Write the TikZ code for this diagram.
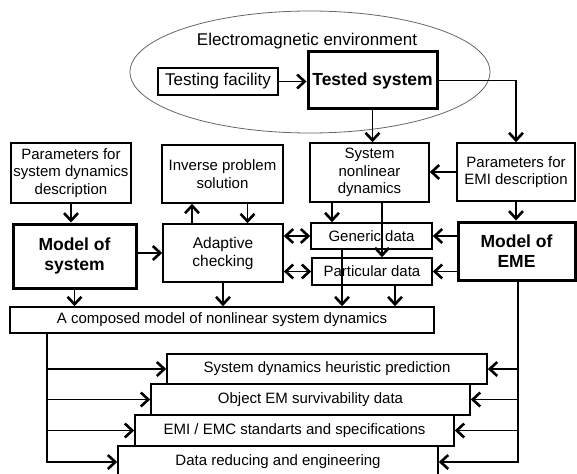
\documentclass[tikz,border=0pt]{standalone}
\usepackage{fontspec}
\setmainfont{Liberation Sans}
\usetikzlibrary{arrows.meta,shapes.geometric}

\begin{document}
\begin{tikzpicture}[x=1pt,y=-1pt,
  box/.style={draw, line width=1.6pt, inner sep=0pt, align=center,
    font=\fontsize{15}{17.5}\selectfont},
  bigbox/.style={draw, line width=3pt, inner sep=0pt, align=center,
    font=\fontsize{17.5}{20}\selectfont\bfseries},
  conn/.style={line width=1.7pt},
  >={Straight Barb[length=7.5pt,width=14pt,line width=2.6pt]}]

\useasboundingbox (0,0) rectangle (577,473);
\clip (0,0) rectangle (577,473);

% environment
\node[ellipse, draw=black!60, line width=0.8pt, minimum width=360,
  minimum height=122, inner sep=0pt] (env) at (310,72) {};
\node[font=\fontsize{17}{20}\selectfont] (envlbl) at (307,41) {Electromagnetic environment};

% top row
\node[box, font=\fontsize{17}{20}\selectfont, minimum width=120, minimum height=27]
  (tf) at (218,81.5) {Testing facility};
\node[bigbox, minimum width=129, minimum height=57] (ts) at (372.5,80.5) {Tested system};

% second row
\node[box, minimum width=120, minimum height=60] (psd) at (71,173)
  {Parameters for\\system dynamics\\description};
\node[box, minimum width=121, minimum height=58] (ips) at (222.5,174)
  {Inverse problem\\solution};
\node[box, minimum width=119, minimum height=59] (snd) at (369.5,172.5)
  {System\\nonlinear\\dynamics};
\node[box, minimum width=118, minimum height=58] (pemi) at (516,172)
  {Parameters for\\EMI description};

% third row
\node[bigbox, minimum width=123, minimum height=64] (ms) at (74.5,256)
  {Model of\\system};
\node[box, font=\fontsize{15.5}{18}\selectfont, minimum width=120, minimum height=58]
  (ac) at (223,253) {Adaptive\\checking};
\node[box, minimum width=121, minimum height=26] (gd) at (371.5,236) {Generic data};
\node[box, minimum width=120, minimum height=27] (pd) at (372,271.5) {Particular data};
\node[bigbox, minimum width=117, minimum height=58] (meme) at (516.5,251)
  {Model of\\EME};

% composed model
\node[box, minimum width=424, minimum height=26] (cm) at (222,320)
  {A composed model of nonlinear system dynamics};

% output staircase
\node[box, minimum width=320, minimum height=30] (b1) at (327,369)
  {System dynamics heuristic prediction};
\node[box, minimum width=319, minimum height=31] (b2) at (310.5,399.5)
  {Object EM survivability data};
\node[box, minimum width=319, minimum height=31] (b3) at (294.5,430.5)
  {EMI / EMC standarts and specifications};
\node[box, minimum width=320, minimum height=32] (b4) at (278,462)
  {Data reducing and engineering};

% connectors
\draw[conn,->] (tf.east) -- (tf.east -| ts.west);
\draw[conn,->] (ts.south) -- (ts.south |- snd.north);
\draw[conn,->] (ts.east) -| (pemi.north);
\draw[conn,->] (pemi.west) -- (pemi.west -| snd.east);
\draw[conn,->] (pemi.south) -- (pemi.south |- meme.north);
\draw[conn,->] (psd.south) -- (psd.south |- ms.north);
\draw[conn,->] (ms.east |- ac.west) -- (ac.west);
\draw[conn,->] ([xshift=-31]ac.north) -- ([xshift=-31]ac.north |- ips.south);
\draw[conn,->] ([xshift=25]ips.south) -- ([xshift=25]ips.south |- ac.north);
\draw[conn,->] (ac.south) -- (ac.south |- cm.north);
\draw[conn,->] (ms.south) -- (ms.south |- cm.north);
\draw[conn,<->] (ac.east |- gd.west) -- (gd.west);
\draw[conn,<->] (ac.east |- pd.west) -- (pd.west);
\draw[conn,->] (meme.west |- gd.east) -- (gd.east);
\draw[conn,->] (meme.west |- pd.east) -- (pd.east);
\draw[conn,->] ([xshift=-37.5]snd.south) -- ([xshift=-37.5]snd.south |- gd.north);
\draw[conn,->] ([xshift=12.5]snd.south) -- ([xshift=12.5]snd.south |- pd.north);
\draw[conn,->] ([xshift=-29.5]gd.south) -- ([xshift=-29.5]gd.south |- cm.north);
\draw[conn,->] ([xshift=23]pd.south) -- ([xshift=23]pd.south |- cm.north);

% distribution buses
\coordinate (lt) at ([xshift=-175]cm.south);
\draw[conn,->] (lt) |- (b4.west);
\foreach \b in {b1,b2,b3} \draw[conn,->] (lt |- \b.west) -- (\b.west);
\coordinate (rt) at ([xshift=1.5]meme.south);
\draw[conn,->] (rt) |- (b4.east);
\foreach \b in {b1,b2,b3} \draw[conn,->] (rt |- \b.east) -- (\b.east);
\end{tikzpicture}
\end{document}
